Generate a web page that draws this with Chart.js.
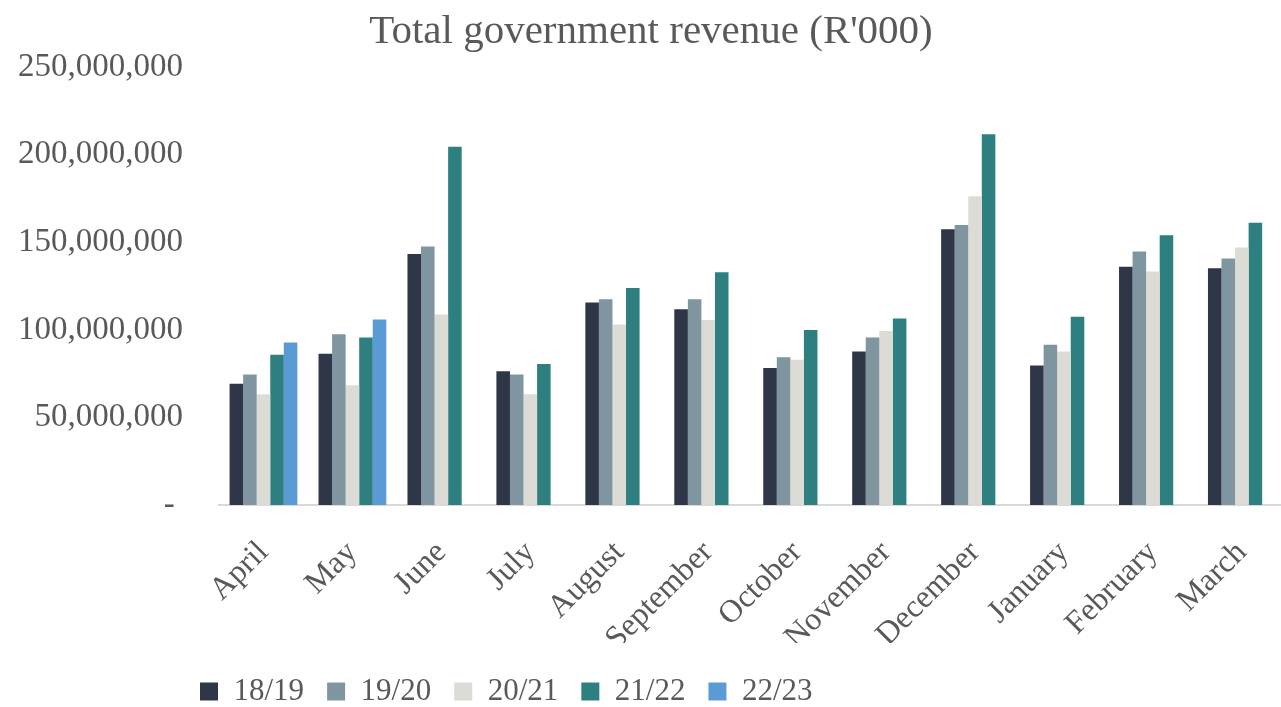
<!DOCTYPE html>
<html>
<head>
<meta charset="utf-8">
<script src="https://cdn.jsdelivr.net/npm/chart.js@4/dist/chart.umd.min.js"></script>
<style>
  html, body { margin: 0; padding: 0; overflow: hidden; background: #fff; }
  #wrap { width: 1290px; height: 707px; }
</style>
</head>
<body>
<div id="wrap"><canvas id="revenueChart" width="1290" height="707"></canvas></div>
<script>
// monthly revenue, R'000, fiscal year April - March
var months = ["April", "May", "June", "July", "August", "September",
  "October", "November", "December", "January", "February", "March"];
var years = ["18/19", "19/20", "20/21", "21/22", "22/23"];
var rev1819 = [69200000, 86400000, 143300000, 76400000, 115600000, 111800000,
  78200000, 87700000, 157400000, 79600000, 136100000, 135200000];
var rev1920 = [74500000, 97500000, 147600000, 74500000, 117500000, 117500000,
  84300000, 95600000, 159900000, 91500000, 144800000, 140800000];
var rev2021 = [63200000, 68400000, 108800000, 63200000, 103100000, 105600000,
  83000000, 99400000, 176300000, 87700000, 133300000, 147100000];
var rev2122 = [85800000, 95600000, 204600000, 80500000, 123900000, 132900000,
  99900000, 106500000, 211700000, 107500000, 154000000, 161200000];
var rev2223 = [92800000, 105900000, null, null, null, null,
  null, null, null, null, null, null];
var yTicks = [0, 50000000, 100000000, 150000000, 200000000, 250000000];

var colours = ["#2e3648", "#7f96a0", "#dcdbd5", "#2e8080", "#5b9bd5"];
var series = [rev1819, rev1920, rev2021, rev2122, rev2223];
var textGrey = "#595959";
var serif = "'Liberation Serif', 'Times New Roman', serif";

// move legend under the y labels and nudge the title a bit right
const boxShift = {
  id: "boxShift",
  afterLayout(chart) {
    chart.legend.left += 177;
    chart.legend.right += 177;
    chart.legend.top += 10;
    chart.legend.bottom += 10;
    chart.titleBlock.left += 6;
    chart.titleBlock.right += 6;
  },
};

const ctx = document.getElementById("revenueChart").getContext("2d");
const revenueChart = new Chart(ctx, {
  type: "bar",
  data: {
    labels: months,
    datasets: years.map((y, i) => ({
      label: y,
      data: series[i],
      backgroundColor: colours[i],
      borderWidth: 0,
      barPercentage: 1,
      categoryPercentage: 0.762,
    })),
  },
  options: {
    responsive: false,
    animation: false,
    plugins: {
      tooltip: { enabled: false },
      title: {
        display: true,
        text: "Total government revenue (R'000)",
        color: textGrey,
        font: { family: serif, size: 41, weight: "normal" },
        padding: { top: 8, bottom: 10 },
      },
      legend: {
        position: "bottom",
        align: "start",
        labels: {
          color: textGrey,
          font: { family: serif, size: 31 },
          boxWidth: 18,
          boxHeight: 18,
          padding: 23,
        },
      },
    },
    scales: {
      x: {
        grid: { display: false },
        border: { display: true, color: "#d9d9d9", width: 2 },
        ticks: {
          color: textGrey,
          font: { family: serif, size: 32 },
          maxRotation: 45,
          minRotation: 45,
          padding: 21,
        },
        afterFit(scale) {
          var lg = scale.chart.legend;
          var lgH = lg && lg.height ? lg.height : 77;
          scale.height = 707 - 505 - lgH;
        },
      },
      y: {
        min: 0,
        max: 250000000,
        afterBuildTicks(scale) {
          scale.ticks = yTicks.map((v) => ({ value: v }));
        },
        grid: { display: false },
        border: { display: false },
        ticks: {
          color: textGrey,
          font: { family: serif, size: 33 },
          padding: 28,
          callback: (v) => (v === 0 ? "- " : v.toLocaleString("en-US")),
        },
        afterFit(scale) {
          scale.width = 219;
        },
      },
    },
  },
  plugins: [boxShift],
});
</script>
</body>
</html>
